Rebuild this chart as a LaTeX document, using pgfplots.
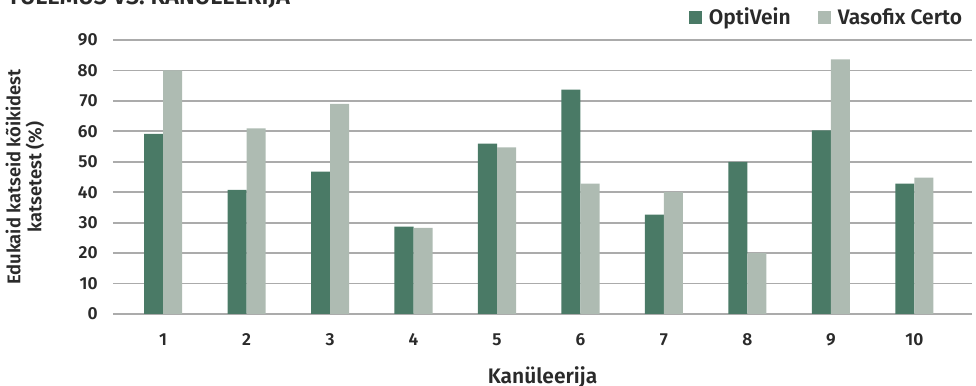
\documentclass[border=0pt]{standalone}
\usepackage{pgfplots}
\pgfplotsset{compat=1.18}
\usepackage{fontspec}
\setmainfont{Fira Sans}[BoldFont={* SemiBold}]

\definecolor{optivein}{HTML}{4A7A66}
\definecolor{vasofix}{HTML}{AEBBB2}
\definecolor{gridgray}{HTML}{ABABAB}
\definecolor{txt}{HTML}{2A2A2A}

% Success rate per cannulator (1-10)
\pgfplotstableread{
k  optivein vasofix
1  59.2  80.0
2  40.8  61.0
3  46.8  69.0
4  28.7  28.3
5  56.0  54.7
6  73.7  42.8
7  32.6  40.0
8  50.0  20.0
9  60.3  83.6
10 42.8  44.8
}\results

\begin{document}
\begin{tikzpicture}
\begin{axis}[
  scale only axis,
  width=429.5pt, height=137pt,
  at={(0,0)}, anchor=south west,
  ybar=0pt,
  bar width=0.228,
  xmin=0.4, xmax=10.69,
  ymin=0, ymax=90,
  xtick=data,
  ytick={0,10,...,90},
  axis line style={draw=none},
  major tick length=0pt,
  ymajorgrids,
  grid style={gridgray, line width=0.9pt},
  tick label style={font=\fontsize{8.7}{10}\selectfont\bfseries, text=txt},
  /pgf/number format/assume math mode=true,
  yticklabel style={inner sep=0pt, anchor=east, xshift=-7.5pt},
  xticklabel style={inner sep=0pt, anchor=north, yshift=-9.5pt},
  xlabel={Kanüleerija},
  xlabel style={at={(axis description cs:0.5,0)}, anchor=base, yshift=-34.5pt,
    inner sep=0pt, text=txt, font=\fontsize{10.5}{12}\selectfont\bfseries},
  ylabel={Edukaid katseid kõikidest\\katsetest (\%)},
  ylabel style={at={(axis description cs:-0.1024,0.5)}, anchor=center,
    align=center, inner sep=0pt, text=txt, font=\fontsize{9.2}{10.5}\selectfont\bfseries},
  legend columns=2,
  legend style={draw=none, fill=none, inner sep=0pt, outer sep=0pt,
    at={(axis description cs:0.9884,1)}, anchor=east, yshift=11pt,
    text=txt, font=\fontsize{10.5}{12}\selectfont\bfseries,
    nodes={inner sep=0pt},
    /tikz/every odd column/.style={column sep=3.5pt},
    /tikz/every even column/.style={column sep=13.5pt}},
  legend image code/.code={\fill[#1] (0pt,-3.25pt) rectangle (6.5pt,3.25pt);},
]
\addplot[fill=optivein, draw=none] table[x=k, y=optivein] {\results};
\addplot[fill=vasofix, draw=none] table[x=k, y=vasofix] {\results};
\legend{OptiVein, Vasofix Certo}
\end{axis}
\node[anchor=base west, inner sep=0pt, text=txt, font=\fontsize{11.8}{13}\selectfont\bfseries]
  at (-53pt,154.5pt) {TULEMUS VS. KANÜLEERIJA};
\pgfresetboundingbox
\useasboundingbox (-56.5pt,-36pt) rectangle (431.5pt,157pt);
\end{tikzpicture}
\end{document}
